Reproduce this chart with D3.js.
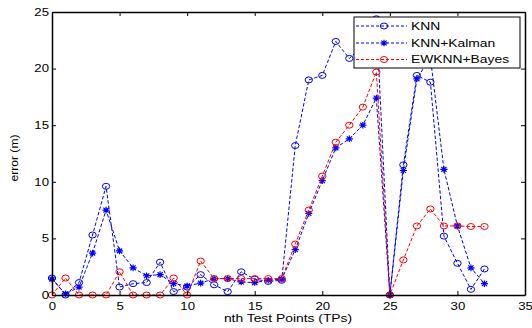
<!DOCTYPE html>
<html>
<head>
<meta charset="utf-8">
<script src="https://cdn.jsdelivr.net/npm/d3@7"></script>
<style>
body { margin: 0; background: #fff; }
text { font-family: "Liberation Sans", Arial, Helvetica, sans-serif; fill: #000; }
</style>
</head>
<body>
<script>
// test point index (x axis)
var testPoints = [0,1,2,3,4,5,6,7,8,9,10,11,12,13,14,15,16,17,18,19,20,21,22,23,24,25,26,27,28,29,30,31,32];

// error (m)
var knn       = [1.5,0,1.1,5.3,9.6,0.7,1.0,1.1,2.9,0.3,0.7,1.8,0.9,0.3,2.05,1.4,1.2,1.3,13.2,19.0,19.4,22.4,20.9,22.0,24.4,0,11.5,19.4,18.8,5.2,2.8,0.5,2.3];
var knnKalman = [1.4,0.1,0.7,3.7,7.5,3.9,2.4,1.7,1.8,1.0,0.8,1.05,1.45,1.45,1.15,1.1,1.3,1.4,4.0,7.2,10.1,13.0,13.8,15.0,17.4,0,11.0,19.1,21.0,11.1,6.1,2.4,1.0];
var ewknn     = [0,1.5,0,0,0,2.05,0,0,0,1.5,0,3.0,1.45,1.45,1.45,1.45,1.45,1.45,4.5,7.5,10.5,13.5,15.0,16.6,19.7,0,3.1,6.1,7.6,6.1,6.1,6.05,6.05];

var xTicks = [0,5,10,15,20,25,30,35];
var yTicks = [0,5,10,15,20,25];
var seriesNames = ['KNN', 'KNN+Kalman', 'EWKNN+Bayes'];

var width = 532, height = 328;
var stretch = 1.32;   // the picture is a bit wider than tall

var svg = d3.select('body')
  .append('svg')
  .attr('width', width)
  .attr('height', height);

var x = d3.scaleLinear().domain([0, 35]).range([52, 525]);
var y = d3.scaleLinear().domain([0, 25]).range([295, 12]);

var series = [
  { name: seriesNames[0], values: knn, color: '#0000ff', marker: 'circle' },
  { name: seriesNames[1], values: knnKalman, color: '#0000ff', marker: 'star' },
  { name: seriesNames[2], values: ewknn, color: '#ff0000', marker: 'circle' }
];

var starPath = 'M-3.6,0H3.6M0,-3.3V3.3M-2.6,-2.4L2.6,2.4M-2.6,2.4L2.6,-2.4';

function drawMarker(g, type, color) {
  if (type == 'circle') {
    g.append('ellipse')
      .attr('rx', 3.7)
      .attr('ry', 3.0)
      .attr('fill', 'none')
      .attr('stroke', color)
      .attr('stroke-width', 1);
  } else {
    g.append('path')
      .attr('d', starPath)
      .attr('fill', 'none')
      .attr('stroke', color)
      .attr('stroke-width', 1.2);
  }
}

// lines + markers
var line = d3.line()
  .x(function(d, i) { return x(testPoints[i]); })
  .y(function(d) { return y(d); });

series.forEach(function(s, k) {
  svg.append('path')
    .datum(s.values)
    .attr('d', line)
    .attr('fill', 'none')
    .attr('stroke', s.color)
    .attr('stroke-width', 1)
    .attr('stroke-dasharray', '3.5,2');

  svg.selectAll('g.marker' + k)
    .data(s.values)
    .enter().append('g')
    .attr('class', 'marker' + k)
    .attr('transform', function(d, i) { return 'translate(' + x(testPoints[i]) + ',' + y(d) + ')'; })
    .each(function() { drawMarker(d3.select(this), s.marker, s.color); });
});

// axes box with inward ticks on all sides
var axBottom = svg.append('g').attr('transform', 'translate(0,295)')
  .call(d3.axisBottom(x).tickValues(xTicks).tickSizeInner(-4).tickSizeOuter(0).tickPadding(8));
var axTop = svg.append('g').attr('transform', 'translate(0,12)')
  .call(d3.axisTop(x).tickValues(xTicks).tickSizeInner(-4).tickSizeOuter(0).tickFormat(''));
var axLeft = svg.append('g').attr('transform', 'translate(52,0)')
  .call(d3.axisLeft(y).tickValues(yTicks).tickSizeInner(-4).tickSizeOuter(0).tickPadding(7));
var axRight = svg.append('g').attr('transform', 'translate(525,0)')
  .call(d3.axisRight(y).tickValues(yTicks).tickSizeInner(-4).tickSizeOuter(0).tickFormat(''));

[axBottom, axTop, axLeft, axRight].forEach(function(a) {
  a.select('.domain').attr('stroke', '#000').attr('stroke-width', 1.5);
  a.selectAll('.tick line').attr('stroke', '#000').attr('stroke-width', 1);
});

axBottom.selectAll('.tick text')
  .attr('font-size', 10)
  .attr('font-family', null)
  .attr('transform', 'scale(' + stretch + ',1)');
axLeft.selectAll('.tick text')
  .attr('font-size', 10)
  .attr('font-family', null)
  .attr('x', -3 / stretch)
  .attr('transform', 'scale(' + stretch + ',1)');
svg.selectAll('g.tick text').attr('font-family', '"Liberation Sans", Arial, sans-serif');

// axis labels
svg.append('text')
  .attr('transform', 'translate(288,322) scale(' + stretch + ',1)')
  .attr('text-anchor', 'middle')
  .attr('font-size', 10.5)
  .text('nth Test Points (TPs)');

svg.append('text')
  .attr('transform', 'translate(18,158) rotate(-90)')
  .attr('text-anchor', 'middle')
  .attr('font-size', 10)
  .attr('textLength', 47)
  .attr('lengthAdjust', 'spacingAndGlyphs')
  .text('error (m)');

// legend
var legend = svg.append('g');
legend.append('rect')
  .attr('x', 354)
  .attr('y', 17)
  .attr('width', 166)
  .attr('height', 51)
  .attr('fill', '#fff')
  .attr('stroke', '#000')
  .attr('stroke-width', 1);

var rowY = [26, 43, 59.5];
series.forEach(function(s, i) {
  var row = legend.append('g').attr('transform', 'translate(0,' + rowY[i] + ')');
  row.append('line')
    .attr('x1', 356).attr('x2', 407)
    .attr('y1', 0).attr('y2', 0)
    .attr('stroke', s.color)
    .attr('stroke-width', 1)
    .attr('stroke-dasharray', '3,2');
  var m = row.append('g').attr('transform', 'translate(384,0)');
  drawMarker(m, s.marker, s.color);
  row.append('text')
    .attr('transform', 'translate(411,3.8) scale(' + stretch + ',1)')
    .attr('font-size', 10.5)
    .text(s.name);
});
</script>
</body>
</html>
